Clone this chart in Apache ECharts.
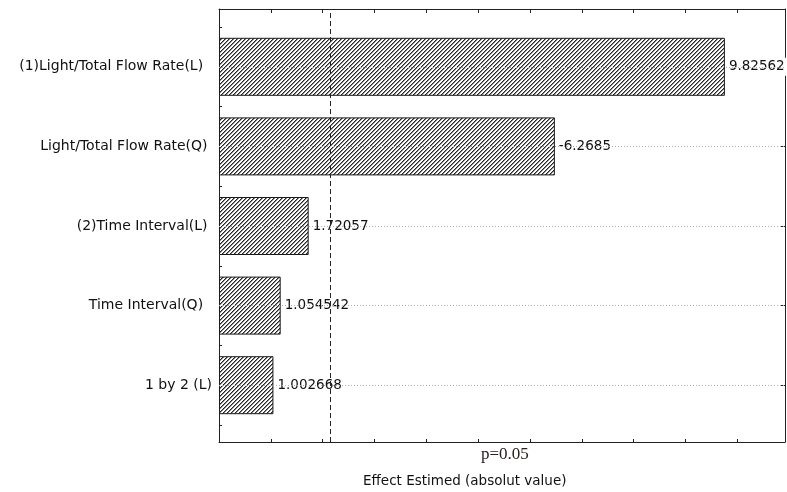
<!DOCTYPE html>
<html>
<head>
<meta charset="utf-8">
<script src="https://cdn.jsdelivr.net/npm/echarts@6/dist/echarts.min.js"></script>
<style>html,body{margin:0;padding:0;background:#fff}#c{width:787px;height:492px}</style>
</head>
<body>
<div id="c"></div>
<script>
// ---- data ----
const categories = ['(1)Light/Total Flow Rate(L)  ', 'Light/Total Flow Rate(Q) ', '(2)Time Interval(L) ', 'Time Interval(Q)  ', '1 by 2 (L)'];
const effects = [9.76, 6.48, 1.73, 1.19, 1.05];
const effectLabels = ['9.82562', '-6.2685', '1.72057', '1.054542', '1.002668'];
const pCritical = 2.14;
const pLabel = 'p=0.05';
const xTitle = 'Effect Estimed (absolut value)';
const xMin = 0, xMax = 10.92, xInterval = 1;

// hatch pattern
const pc = document.createElement('canvas');
pc.width = 4; pc.height = 4;
const g = pc.getContext('2d');
g.fillStyle = '#ffffff'; g.fillRect(0, 0, 4, 4);
for (let i = 0; i < 4; i++) {
  g.fillStyle = '#262626'; g.fillRect(3 - i, i, 1, 1);
  g.fillStyle = '#8a8a8a'; g.fillRect((4 - i) % 4, i, 1, 1);
}

const chart = echarts.init(document.getElementById('c'), null, {renderer: 'canvas'});
const axisCol = '#222';
const font = 'DejaVu Sans';
const line = {show: true, onZero: false, lineStyle: {color: axisCol, width: 1}};

const option = {
  animation: false,
  backgroundColor: '#fff',
  title: [
    {text: pLabel, left: 481, top: 446, padding: 0, textStyle: {fontFamily: 'Liberation Serif', fontSize: 17, fontWeight: 'normal', color: '#2a2020'}},
    {text: xTitle, left: 363, top: 474, padding: 0, textStyle: {fontFamily: font, fontSize: 13.5, fontWeight: 'normal', color: '#111'}}
  ],
  grid: [
    {left: 219, right: 2, top: 9, bottom: 50},
    {left: 219, right: 2, top: 27, bottom: 67}
  ],
  xAxis: [
    {gridIndex: 0, type: 'value', min: xMin, max: xMax, interval: xInterval, position: 'bottom',
     axisLine: line,
     axisTick: {show: true, inside: true, length: 3, lineStyle: {color: axisCol}},
     axisLabel: {show: false}, splitLine: {show: false}},
    {gridIndex: 0, type: 'value', min: xMin, max: xMax, interval: xInterval, position: 'top',
     axisLine: line,
     axisTick: {show: true, inside: true, length: 4, lineStyle: {color: axisCol}},
     axisLabel: {show: false}, splitLine: {show: false}},
    {gridIndex: 1, type: 'value', min: xMin, max: xMax, interval: xInterval, show: false}
  ],
  yAxis: [
    {gridIndex: 0, type: 'value', min: 0, max: 1, position: 'left',
     axisLine: line, axisTick: {show: false}, axisLabel: {show: false}, splitLine: {show: false}},
    {gridIndex: 0, type: 'value', min: 0, max: 1, position: 'right',
     axisLine: line, axisTick: {show: false}, axisLabel: {show: false}, splitLine: {show: false}},
    {gridIndex: 1, type: 'category', data: categories, inverse: true, position: 'left', boundaryGap: true,
     axisLine: {show: false},
     axisTick: {show: true, inside: true, length: 3, lineStyle: {color: axisCol}},
     axisLabel: {show: true, margin: 7, fontFamily: font, fontSize: 14, color: '#111'},
     splitLine: {show: false}},
    {gridIndex: 1, type: 'category', data: categories, inverse: true, position: 'right', boundaryGap: true,
     axisLine: {show: false},
     axisTick: {show: true, inside: true, alignWithLabel: true, length: 4, lineStyle: {color: axisCol}},
     axisLabel: {show: false}, splitLine: {show: false}}
  ],
  series: [
    {
      type: 'line', xAxisIndex: 2, yAxisIndex: 2, data: [], z: 1, silent: true,
      markLine: {
        silent: true, symbol: 'none', label: {show: false},
        lineStyle: {color: '#b0b0b0', type: [1, 2], width: 1},
        data: categories.map(c => ({yAxis: c}))
      }
    },
    {
      type: 'bar', xAxisIndex: 2, yAxisIndex: 2, z: 2, barWidth: 58,
      data: effects,
      itemStyle: {color: {image: pc, repeat: 'repeat'}, borderColor: '#1a1a1a', borderWidth: 1},
      label: {
        show: true, position: 'right', distance: 4,
        fontFamily: font, fontSize: 13.5, color: '#111',
        backgroundColor: '#fff', padding: [2, 10, 2, 0],
        formatter: p => effectLabels[p.dataIndex]
      }
    },
    {
      type: 'line', xAxisIndex: 0, yAxisIndex: 0, data: [], z: 5, silent: true,
      markLine: {
        silent: true, symbol: 'none', label: {show: false},
        lineStyle: {color: '#222', type: [5, 3], width: 1},
        data: [{xAxis: pCritical}]
      }
    }
  ]
};
chart.setOption(option);
</script>
</body>
</html>
